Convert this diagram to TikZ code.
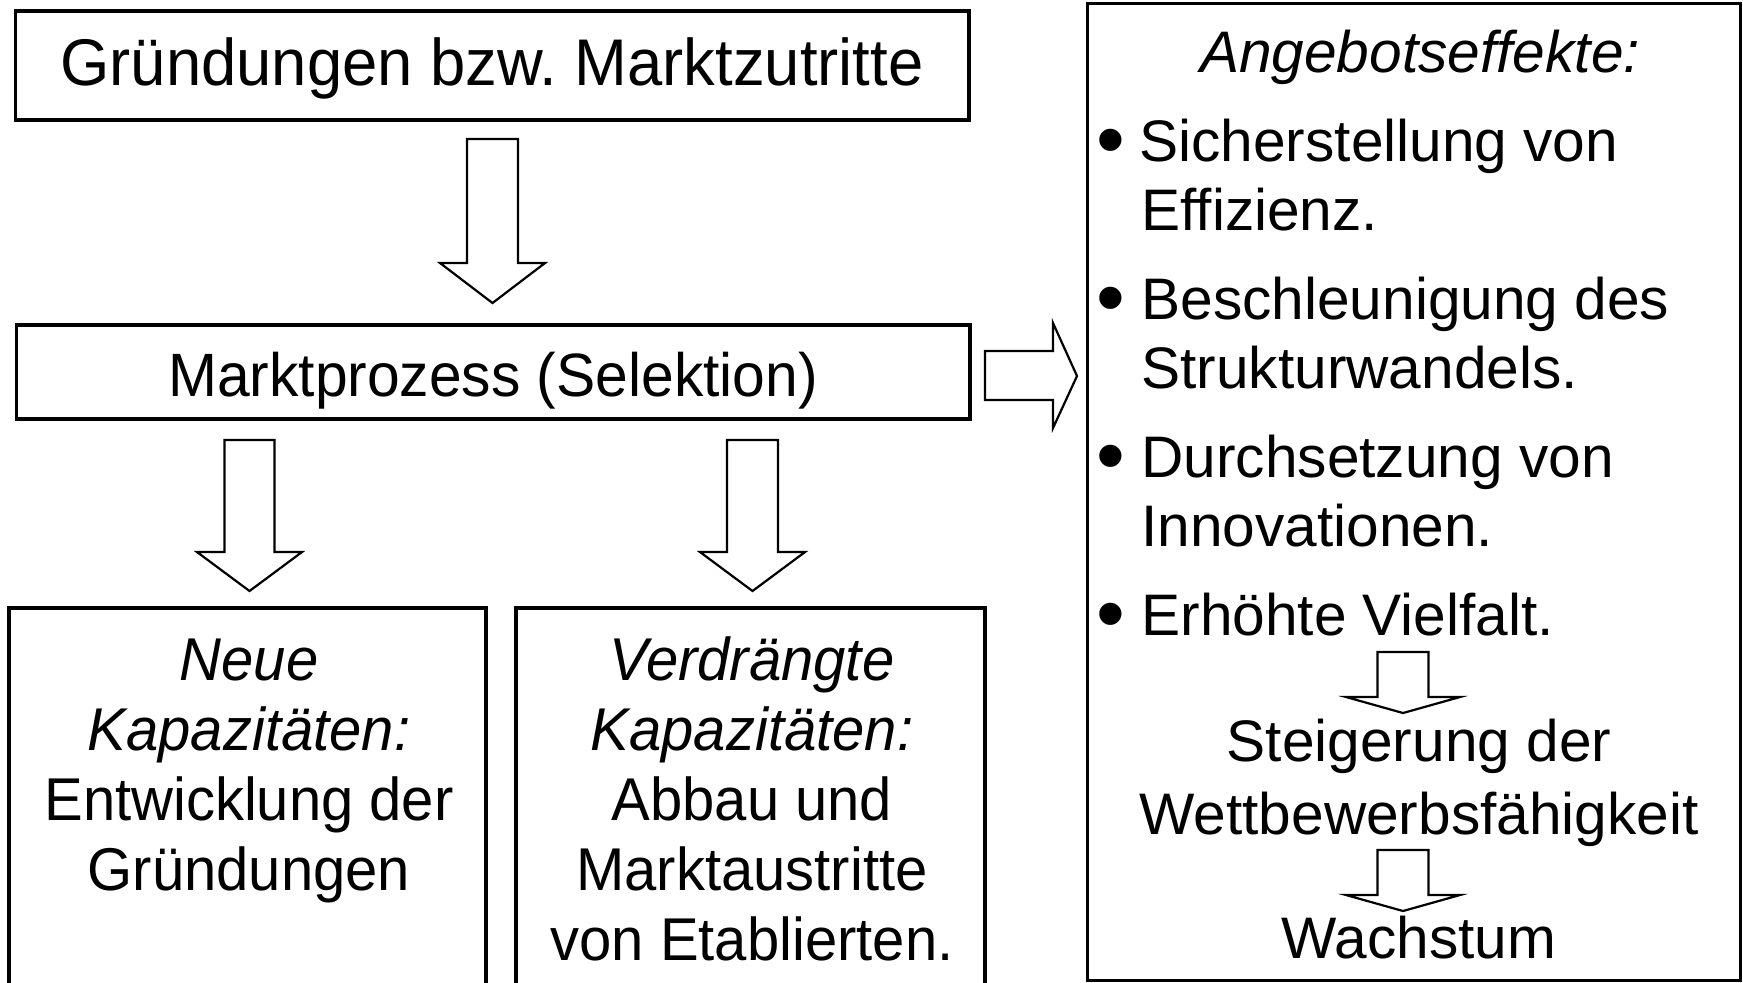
\documentclass[tikz,border=0pt]{standalone}
\usepackage{fontspec}
\setmainfont{Liberation Sans}
\newfontfamily\lf[FakeStretch=0.96]{Liberation Sans}
\usetikzlibrary{fit}
\begin{document}
\begin{tikzpicture}[x=0.5pt,y=-0.5pt,
  box/.style={draw, line width=1.75pt, inner sep=0pt},
  openbox/.style={draw, line width=1.75pt, line join=miter},
  blk/.style={draw, line width=1.1pt, fill=white, line join=miter},
  lt/.style={font=\lf\fontsize{30.2}{36}\selectfont, inner sep=0pt, anchor=base},
  rt/.style={font=\fontsize{29.3}{35}\selectfont, inner sep=0pt, anchor=base},
  rtl/.style={rt, anchor=base west},
  bul/.style={font=\fontsize{41}{50}\selectfont, inner sep=0pt, anchor=base},
  pics/darrow/.style n args={5}{code={
    \draw[blk] (-#1,0) -- (#1,0) -- (#1,#3) -- (#2,#3) -- (0,#4) -- (-#2,#3) -- (-#1,#3) -- cycle;}},
]
\useasboundingbox (0,0) rectangle (1743,982);

% boxes
\node[box, fit={(15.6,11) (969,120)}] (b1) {};
\node[box, fit={(16.7,325) (970,419)}] (b2) {};
\draw[openbox] (9,990) |- (486,608) -- (486,990);
\draw[openbox] (516,990) |- (985,608) -- (985,990);
\coordinate (b3) at (249,608);
\coordinate (b4) at (752,608);
\node[draw, line width=1.5pt, inner sep=0pt, fit={(1087.5,3.5) (1740,980.5)}] (b5) {};

% block arrows
\pic at (492.5,139) {darrow={25.5}{52.5}{124}{164}{}};
\pic at (249.5,440) {darrow={25}{52.5}{112}{151}{}};
\pic at (752.5,440) {darrow={25.5}{52.5}{112}{151}{}};
\draw[blk] (985,351) -- (1053,351) -- (1053,323) -- (1077,376) -- (1053,428) -- (1053,400) -- (985,400) -- cycle;
\pic at (1403,652) {darrow={25.5}{57}{45}{61}{}};
\pic at (1403,850) {darrow={25.5}{57}{45}{61}{}};

% left texts
\node[lt, font=\lf\fontsize{33}{40}\selectfont] (t1) at (492,85) {Gründungen bzw.\ Marktzutritte};
\node[lt, font=\lf\fontsize{30.6}{36}\selectfont] (t2) at (493,396) {Marktprozess (Selektion)};

\node[lt] (n1) at (249,680) {\itshape Neue};
\node[lt] (n2) at (249,750) {\itshape Kapazitäten:};
\node[lt] (n3) at (249,820) {Entwicklung der};
\node[lt] (n4) at (249,890) {Gründungen};

\node[lt] (v1) at (752,680) {\itshape Verdrängte};
\node[lt] (v2) at (752,750) {\itshape Kapazitäten:};
\node[lt] (v3) at (752,820) {Abbau und};
\node[lt] (v4) at (752,890) {Marktaustritte};
\node[lt] (v5) at (752,960) {von Etablierten.};

% right texts
\node[rt] (r0) at (1420,72) {\itshape Angebotseffekte:};
\node[bul] (p1) at (1111,167) {•};
\node[rtl] (r1) at (1139,161) {Sicherstellung von};
\node[rtl] (r2) at (1141,230) {Effizienz.};
\node[bul] (p2) at (1111,325) {•};
\node[rtl] (r3) at (1141,319) {Beschleunigung des};
\node[rtl] (r4) at (1141,388) {Strukturwandels.};
\node[bul] (p3) at (1111,483) {•};
\node[rtl] (r5) at (1141,477) {Durchsetzung von};
\node[rtl] (r6) at (1141,546) {Innovationen.};
\node[bul] (p4) at (1111,641) {•};
\node[rtl] (r7) at (1141,635) {Erhöhte Vielfalt.};
\node[rt] (r8) at (1419,761) {Steigerung der};
\node[rt] (r9) at (1419,834) {Wettbewerbsfähigkeit};
\node[rt] (r10) at (1419,958) {Wachstum};
\end{tikzpicture}
\end{document}
